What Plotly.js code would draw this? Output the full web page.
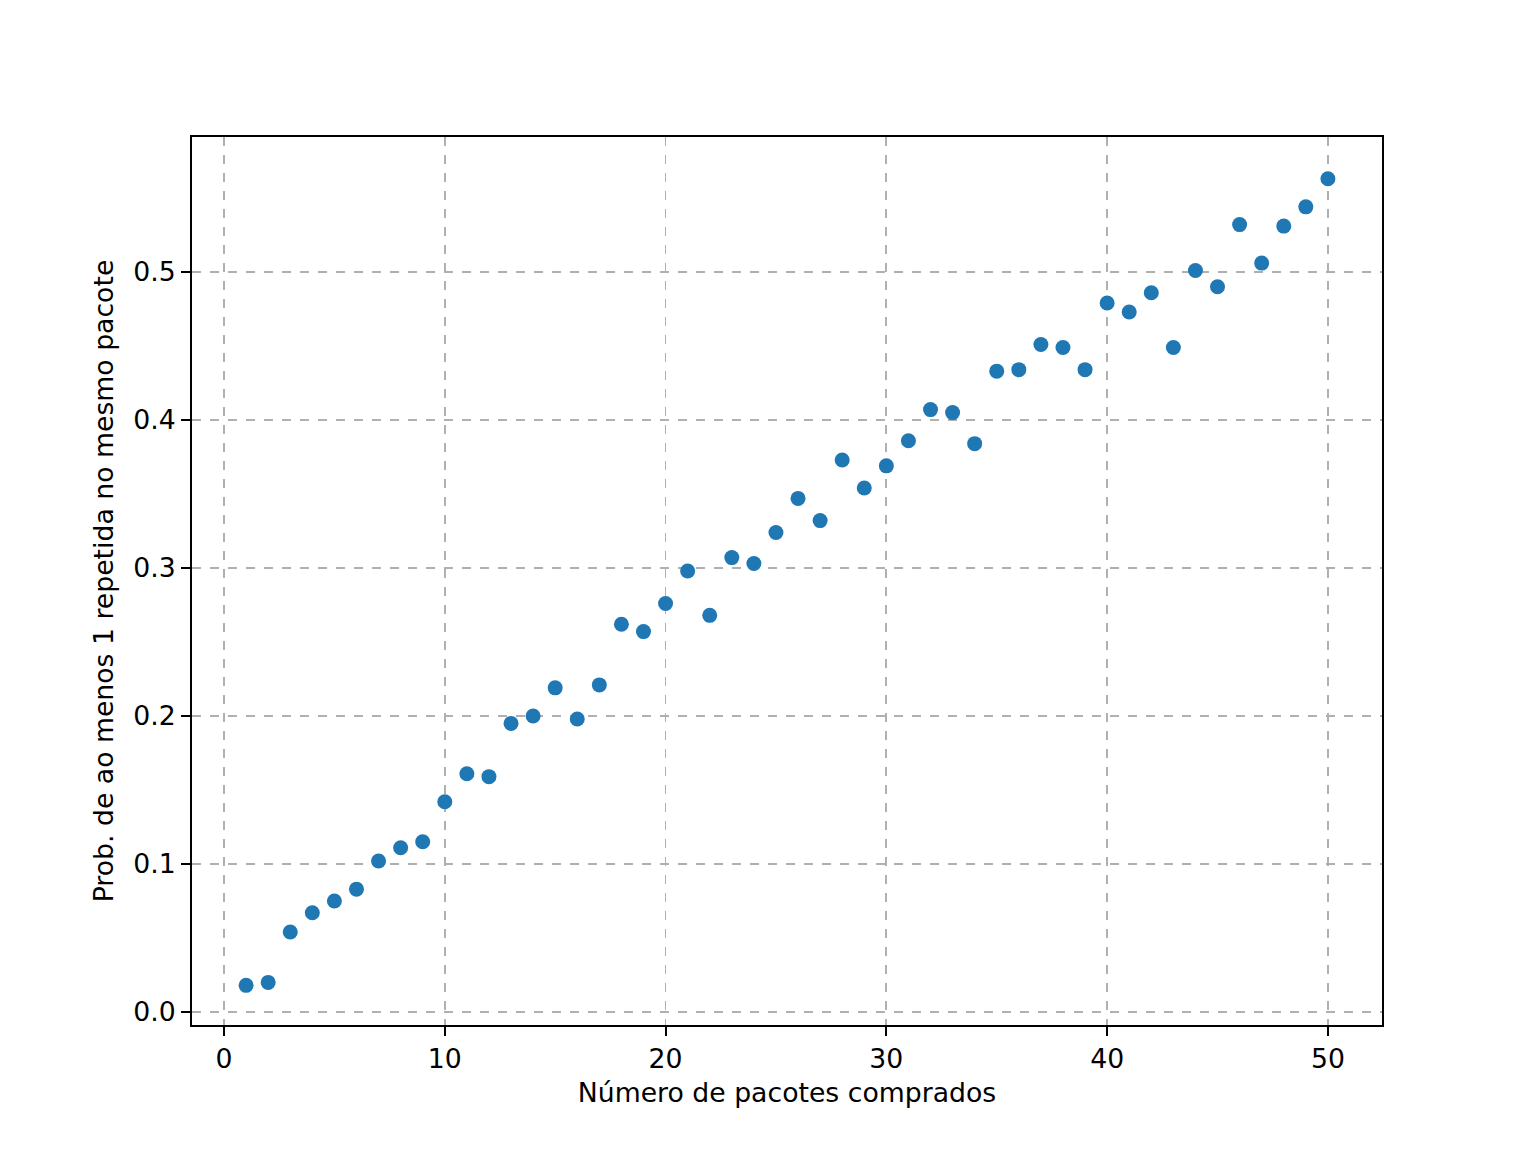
<!DOCTYPE html>
<html>
<head>
<meta charset="utf-8">
<script src="https://cdn.plot.ly/plotly-3.0.1.min.js"></script>
<style>
  body { margin: 0; background: #fff; }
  #canvas { width: 1536px; height: 1152px; }
</style>
</head>
<body>
<div id="canvas"></div>
<script>
// packs bought
const packs = [];
for (let i = 1; i <= 50; i++) packs.push(i);

// estimated prob. of at least one repeated card in the same pack
const probRepeat = [
    0.018, 0.020, 0.054, 0.067, 0.075, 0.083, 0.102, 0.111, 0.115, 0.142,
    0.161, 0.159, 0.195, 0.200, 0.219, 0.198, 0.221, 0.262, 0.257, 0.276,
    0.298, 0.268, 0.307, 0.303, 0.324, 0.347, 0.332, 0.373, 0.354, 0.369,
    0.386, 0.407, 0.405, 0.384, 0.433, 0.434, 0.451, 0.449, 0.434, 0.479,
    0.473, 0.486, 0.449, 0.501, 0.490, 0.532, 0.506, 0.531, 0.544, 0.563
];

const xTicks = [0, 10, 20, 30, 40, 50];
const yTicks = [0.0, 0.1, 0.2, 0.3, 0.4, 0.5];

const FONT = "DejaVu Sans, sans-serif";
const FSIZE = 26.7;

var getPlotData = () => [{
    x: packs,
    y: probRepeat,
    mode: "markers",
    type: "scatter",
    marker: { color: "#1f77b4", size: 15 },
    hoverinfo: "x+y",
}];

var axisBase = {
    showline: true,
    mirror: true,
    linecolor: "#000",
    linewidth: 2,
    ticks: "outside",
    ticklen: 9,
    tickwidth: 2,
    tickcolor: "#000",
    showgrid: true,
    gridcolor: "#b0b0b0",
    gridwidth: 1.8,
    griddash: "dash",
    zeroline: false,
    tickfont: { family: FONT, size: FSIZE, color: "#000" },
};

var getPlotLayout = () => ({
    width: 1536,
    height: 1152,
    paper_bgcolor: "#fff",
    plot_bgcolor: "#fff",
    showlegend: false,
    margin: { l: 192, r: 154, t: 137, b: 127 },
    font: { family: FONT, color: "#000" },
    xaxis: Object.assign({}, axisBase, {
        range: [-1.45, 52.45],
        tickvals: xTicks,
        ticktext: xTicks.map(String),
        title: { text: "Número de pacotes comprados", font: { family: FONT, size: FSIZE }, standoff: 10 },
    }),
    yaxis: Object.assign({}, axisBase, {
        range: [-0.0088, 0.5912],
        tickvals: yTicks,
        ticktext: yTicks.map((v) => v.toFixed(1)),
        title: { text: "Prob. de ao menos 1 repetida no mesmo pacote", font: { family: FONT, size: FSIZE }, standoff: 12 },
    }),
});

Plotly.newPlot("canvas", getPlotData(), getPlotLayout(), { displayModeBar: false, staticPlot: true });
</script>
</body>
</html>
